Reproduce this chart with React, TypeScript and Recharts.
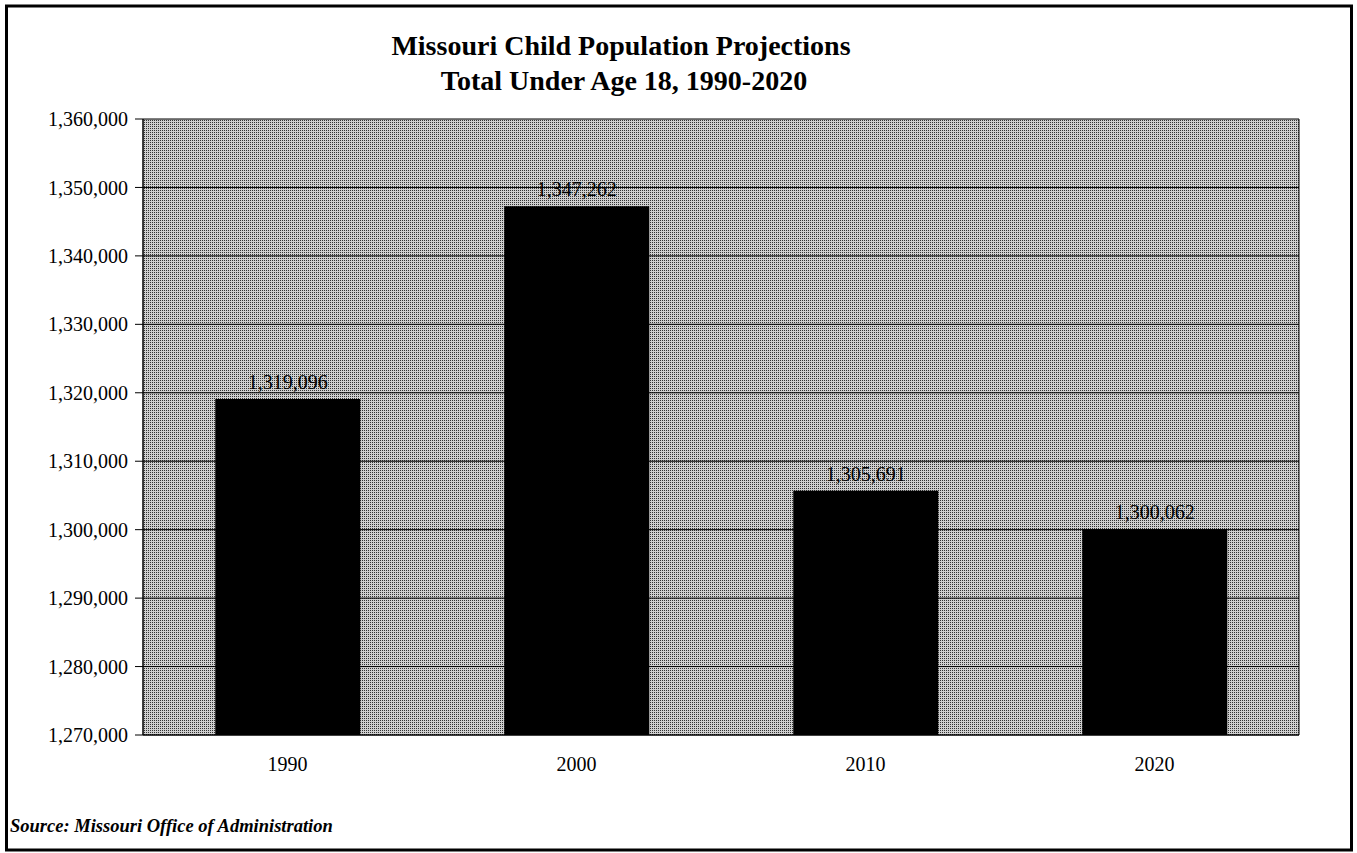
import React from 'react';
import {
  BarChart,
  Bar,
  XAxis,
  YAxis,
  CartesianGrid,
  LabelList
} from 'recharts';

// Missouri population under 18, projected by decade
const years = ['1990', '2000', '2010', '2020'];
const population = [1319096, 1347262, 1305691, 1300062];
const yTicks = [1270000, 1280000, 1290000, 1300000, 1310000, 1320000, 1330000, 1340000, 1350000, 1360000];

const chartData = years.map((year, i) => ({ year, total: population[i] }));

const SERIF = '"Liberation Serif", "Times New Roman", serif';
const fmt = (v: number) => v.toLocaleString('en-US');

const W = 1357;
const H = 853;

export default function App() {
  return (
    <div style={{ position: 'absolute', left: 0, top: 0, width: W, height: H, background: '#fff' }}>
      {/* halftone gray used behind the bars */}
      <svg width={0} height={0} style={{ position: 'absolute' }}>
        <defs>
          <pattern id="dither" width={2} height={2} patternUnits="userSpaceOnUse">
            <rect width={2} height={2} fill="#cfcfcf" />
            <rect width={1} height={1} fill="#333" />
          </pattern>
        </defs>
      </svg>

      <div style={{ position: 'absolute', left: 0, top: 0 }}>
        <BarChart
          width={W}
          height={H}
          data={chartData}
          margin={{ top: 119, right: 58, bottom: 88, left: 0 }}
          barCategoryGap="25%"
        >
          <CartesianGrid
            fill="url(#dither)"
            stroke="#000"
            strokeOpacity={1}
            verticalCoordinatesGenerator={({ offset }: any) => [offset.left, offset.left + offset.width]}
          />
          <XAxis
            dataKey="year"
            axisLine={{ stroke: '#000' }}
            tickLine={false}
            tickSize={6}
            tickMargin={16}
            height={30}
            tick={{ fill: '#000', fontFamily: SERIF, fontSize: 20 }}
          />
          <YAxis
            domain={[1270000, 1360000]}
            ticks={yTicks}
            interval={0}
            allowDataOverflow
            width={143}
            axisLine={{ stroke: '#000' }}
            tickLine={{ stroke: '#000' }}
            tickSize={8}
            tickMargin={7}
            tickFormatter={fmt}
            tick={{ fill: '#000', fontFamily: SERIF, fontSize: 20 }}
          />
          <Bar dataKey="total" fill="#000" isAnimationActive={false}>
            <LabelList
              dataKey="total"
              position="top"
              offset={10}
              formatter={(v: any) => fmt(Number(v))}
              style={{ fill: '#000', fontFamily: SERIF, fontSize: 20 }}
            />
          </Bar>
        </BarChart>
      </div>

      {/* frame, titles and source note */}
      <svg width={W} height={H} style={{ position: 'absolute', left: 0, top: 0, pointerEvents: 'none' }}>
        <rect x={6.5} y={6} width={1345} height={844} fill="none" stroke="#000" strokeWidth={3} />
        <text x={621} y={55} textAnchor="middle" fontFamily={SERIF} fontWeight="bold" fontSize={28} fill="#000">
          Missouri Child Population Projections
        </text>
        <text x={624} y={90} textAnchor="middle" fontFamily={SERIF} fontWeight="bold" fontSize={28} fill="#000">
          Total Under Age 18, 1990-2020
        </text>
        <text x={10} y={832} fontFamily={SERIF} fontWeight="bold" fontStyle="italic" fontSize={18.5} fill="#000">
          Source: Missouri Office of Administration
        </text>
      </svg>
    </div>
  );
}
